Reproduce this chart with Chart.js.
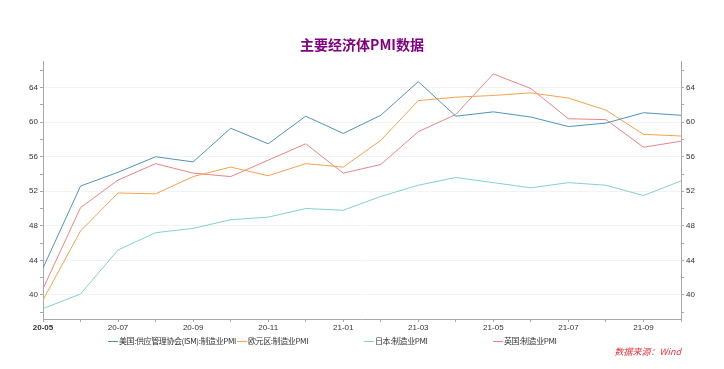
<!DOCTYPE html>
<html>
<head>
<meta charset="utf-8">
<script src="https://cdn.jsdelivr.net/npm/chart.js@4"></script>
<style>
  html, body { margin: 0; padding: 0; background: #fff; }
  #wrap { position: relative; width: 724px; height: 369px; font-family: "Noto Sans CJK SC", "Noto Sans", sans-serif; }
  #legend { position: absolute; top: 334px; left: 0; width: 724px; height: 14px; font-size: 8px; color: #333; }
  #legend .item { position: absolute; top: 0; white-space: nowrap; line-height: 14px; letter-spacing: -0.4px; }
  #legend .line { display: inline-block; width: 10px; height: 1px; vertical-align: middle; margin-right: 1px; }
  #source { position: absolute; top: 345px; right: 43px; font-size: 9px; color: #e8343c; font-style: italic; }
</style>
</head>
<body>
<div id="wrap">
  <canvas id="chartPMI" width="724" height="369"></canvas>
  <div id="legend"></div>
  <div id="source">数据来源：Wind</div>
</div>
<script>
// ====== Datos ======
const meses = ["20-05","20-06","20-07","20-08","20-09","20-10","20-11","20-12",
               "21-01","21-02","21-03","21-04","21-05","21-06","21-07","21-08","21-09","21-10"];
const usaISM  = [43.1, 52.6, 54.2, 56.0, 55.4, 59.3, 57.5, 60.7, 58.7, 60.8, 64.7, 60.7, 61.2, 60.6, 59.5, 59.9, 61.1, 60.8];
const eurozona = [39.4, 47.4, 51.8, 51.7, 53.7, 54.8, 53.8, 55.2, 54.8, 57.9, 62.5, 62.9, 63.1, 63.4, 62.8, 61.4, 58.6, 58.4];
const japon   = [38.4, 40.1, 45.2, 47.2, 47.7, 48.7, 49.0, 50.0, 49.8, 51.4, 52.7, 53.6, 53.0, 52.4, 53.0, 52.7, 51.5, 53.2];
const reinoUnido = [40.7, 50.1, 53.3, 55.2, 54.1, 53.7, 55.6, 57.5, 54.1, 55.1, 58.9, 60.9, 65.6, 63.9, 60.4, 60.3, 57.1, 57.8];
const nombres = ["美国:供应管理协会(ISM):制造业PMI", "欧元区:制造业PMI", "日本:制造业PMI", "英国:制造业PMI"];
const colores = ["#5192bb", "#f7a24f", "#86d0d0", "#ea8585"];
const yTicks = [38, 40, 42, 44, 46, 48, 50, 52, 54, 56, 58, 60, 62, 64, 66];
const yMin = 37.2, yMax = 67;

window.addEventListener("DOMContentLoaded", () => {
    const canvas = document.getElementById("chartPMI");
    const ctx = canvas.getContext("2d");
    const series = [usaISM, eurozona, japon, reinoUnido];

    const ejeY = (pos, ancho) => ({
        position: pos,
        min: yMin,
        max: yMax,
        afterBuildTicks: (s) => { s.ticks = yTicks.map(v => ({ value: v })); },
        afterFit: (s) => { s.width = ancho; },
        border: { color: "#a8a8a8" },
        grid: {
            drawOnChartArea: pos === "left",
            color: (c) => (c.tick && c.tick.value % 4 === 0) ? "#f3f3f3" : "rgba(0,0,0,0)",
            tickColor: "#a8a8a8",
            tickLength: 3
        },
        ticks: {
            padding: 2,
            color: "#333",
            font: { size: 8 },
            callback: (val) => (val % 4 === 0 ? String(val) : "")
        }
    });

    new Chart(ctx, {
        type: "line",
        data: {
            labels: meses,
            datasets: series.map((d, i) => ({
                label: nombres[i],
                data: d,
                borderColor: colores[i],
                backgroundColor: colores[i],
                borderWidth: 1,
                pointRadius: 0,
                tension: 0,
                yAxisID: "y"
            }))
        },
        options: {
            responsive: false,
            animation: false,
            layout: { padding: { left: 0, right: 0, top: 0, bottom: 0 } },
            plugins: {
                legend: { display: false },
                tooltip: { enabled: false },
                title: {
                    display: true,
                    text: "主要经济体PMI数据",
                    color: "#800080",
                    font: { size: 14, weight: "bold", family: "'Noto Sans CJK SC', sans-serif" },
                    padding: { top: 36, bottom: 9 }
                }
            },
            scales: {
                x: {
                    offset: false,
                    afterFit: (s) => { s.height = 50; },
                    border: { color: "#a8a8a8" },
                    grid: { drawOnChartArea: false, tickColor: "#a8a8a8", tickLength: 3 },
                    ticks: {
                        autoSkip: false,
                        maxRotation: 0,
                        padding: 1,
                        color: "#333",
                        font: (c) => ({ size: 8, weight: c.index === 0 ? "bold" : "normal" }),
                        callback: (val, idx) => (idx % 2 === 0 ? meses[idx] : "")
                    }
                },
                y: ejeY("left", 43),
                y2: ejeY("right", 43)
            }
        }
    });

    // ====== Leyenda ======
    const legend = document.getElementById("legend");
    const posiciones = [108, 237, 364, 493];
    nombres.forEach((n, i) => {
        const item = document.createElement("div");
        item.className = "item";
        item.style.left = posiciones[i] + "px";
        item.innerHTML = '<span class="line" style="background:' + colores[i] + '"></span>' + n;
        legend.appendChild(item);
    });
});
</script>
</body>
</html>
